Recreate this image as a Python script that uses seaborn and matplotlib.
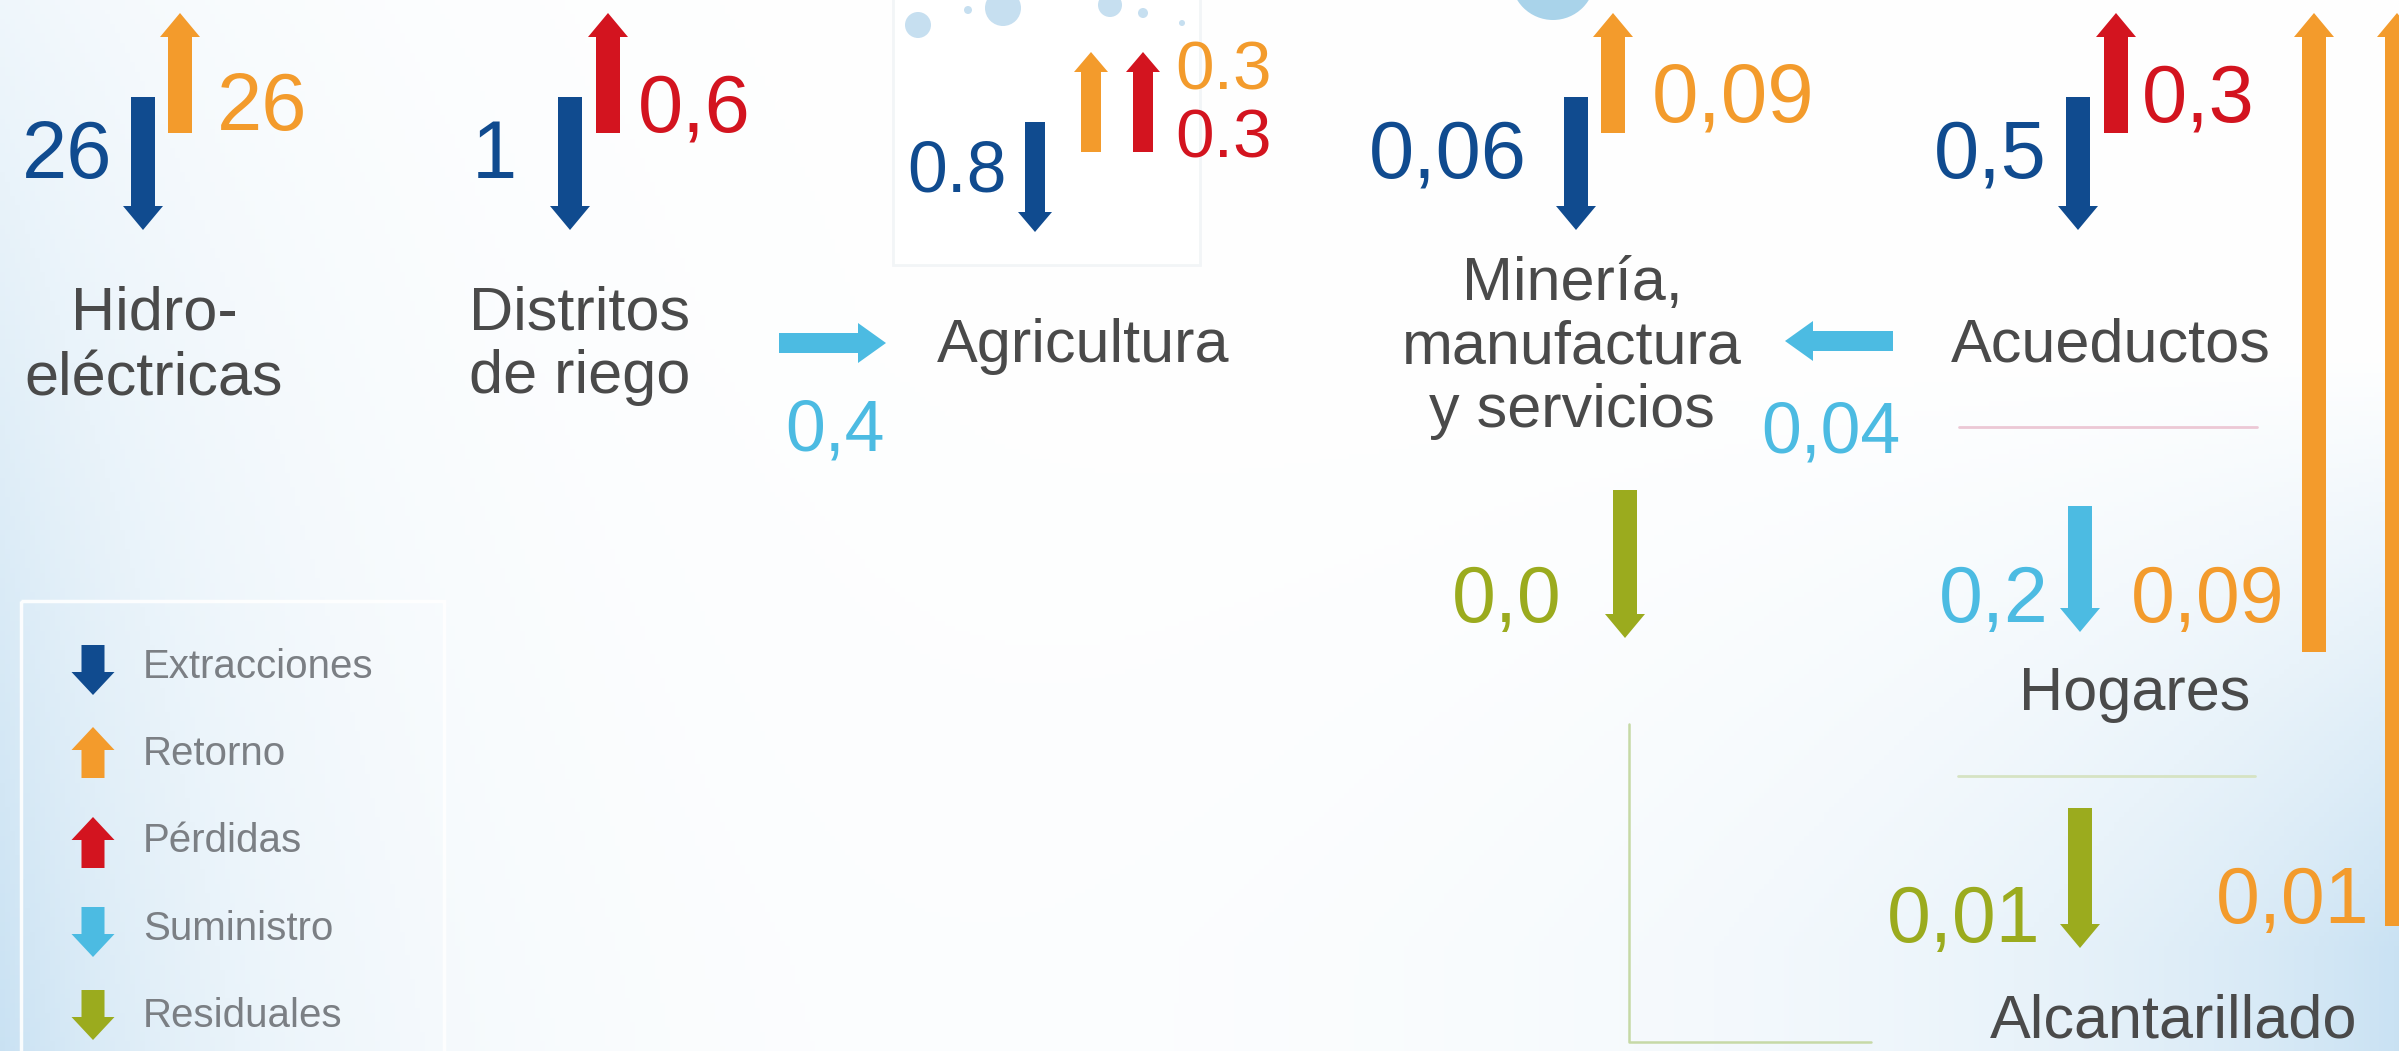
import numpy as np
import seaborn as sns
import matplotlib.pyplot as plt
from matplotlib import font_manager
from matplotlib.patches import FancyArrow, Rectangle, Circle

# --- datos (millones de m3, tal como aparecen en el esquema) ---
tipos_flujo = ["Extracciones", "Retorno", "Pérdidas", "Suministro", "Residuales"]
colores_flujo = ["#104b8f", "#f39b2c", "#d3141f", "#4cbbe2", "#9bab1e"]

sectores = ["Hidro-\neléctricas", "Distritos\nde riego", "Agricultura",
            "Minería,\nmanufactura\ny servicios", "Acueductos", "Hogares", "Alcantarillado"]

extracciones = ["26", "1", "0.8", "0,06", "0,5"]      # hidro, distritos, agricultura, minería, acueductos
retornos = ["26", "0.3", "0,09", "0,09", "0,01"]       # hidro, agricultura, minería, hogares, alcantarillado
perdidas = ["0,6", "0.3", "0,3"]                       # distritos, agricultura, acueductos
suministros = ["0,4", "0,04", "0,2"]                   # distritos->agri, acueductos->minería, acueductos->hogares
residuales = ["0,0", "0,01"]                           # minería, hogares->alcantarillado

# --- layout (pixeles) ---
W, H = 2399, 1051
# flechas: (x0, y0, x1, y1, tamaño)   texto: (x, y base, alineación, tamaño de letra)
ext_flechas = [(143, 97, 143, 230, "n"), (570, 97, 570, 230, "n"), (1035, 122, 1035, 232, "s"),
               (1576, 97, 1576, 230, "n"), (2078, 97, 2078, 230, "n")]
ext_textos = [(112, 178, "right", 68), (517, 178, "right", 68), (1007, 192, "right", 60),
              (1527, 178, "right", 68), (2047, 178, "right", 68)]
ret_flechas = [(180, 133, 180, 13, "n"), (1091, 152, 1091, 52, "s"), (1613, 133, 1613, 13, "n"),
               (2314, 652, 2314, 13, "n"), (2397, 926, 2397, 13, "n")]
ret_textos = [(217, 130, "left", 68), (1175, 90, "left", 58), (1652, 122, "left", 70),
              (2131, 622, "left", 66), (2216, 923, "left", 66)]
per_flechas = [(608, 133, 608, 13, "n"), (1143, 152, 1143, 52, "s"), (2116, 133, 2116, 13, "n")]
per_textos = [(638, 132, "left", 68), (1175, 157, "left", 58), (2142, 122, "left", 68)]
sum_flechas = [(779, 343, 886, 343, "h"), (1893, 341, 1785, 341, "h"), (2080, 506, 2080, 632, "n")]
sum_textos = [(835, 450, "center", 60), (1831, 452, "center", 60), (2049, 622, "right", 66)]
res_flechas = [(1625, 490, 1625, 638, "n"), (2080, 808, 2080, 948, "n")]
res_textos = [(1562, 622, "right", 66), (2040, 942, "right", 66)]

sector_pos = [(154, [330, 395]), (580, [330, 393]), (1083, [362]), (1572, [300, 363, 427]),
              (2111, [362]), (2135, [710]), (2174, [1038])]

dims = {"n": (24, 40, 24), "s": (20, 34, 20), "h": (20, 40, 28)}

sns.set_theme(style="white")
plt.rcParams['font.family'] = ['Liberation Sans', 'DejaVu Sans']
paleta = dict(zip(tipos_flujo, sns.color_palette(colores_flujo)))

nombres = {f.name for f in font_manager.fontManager.ttflist}
if "Liberation Sans Narrow" in nombres:
    fuente_num, esc = "Liberation Sans Narrow", 1.0
else:
    fuente_num, esc = "Liberation Sans", 0.86

fig = plt.figure(figsize=(W / 100, H / 100), dpi=100)
ax = fig.add_axes([0, 0, 1, 1])
ax.set_xlim(0, W)
ax.set_ylim(H, 0)
ax.axis("off")

# fondo degradado celeste
gx, gy = np.meshgrid(np.linspace(0, W, 480), np.linspace(0, H, 220))
izq = np.exp(-gx / 260) * np.clip(0.3 + 0.7 * gy / H, 0, 1)
der = np.exp(-(W - gx) / 430) * np.clip((gy - 350) / 600, 0, 1)
t = np.clip(0.95 * izq + 0.95 * der, 0, 1)[..., None]
tinte = np.array([0.78, 0.88, 0.95])
ax.imshow(1 - t * (1 - tinte), extent=[0, W, H, 0], aspect="auto", zorder=0)

# recuadro de agricultura con burbujas
ax.add_patch(Rectangle((893, -10), 307, 275, facecolor="white", edgecolor="#f2f5f7", lw=2, zorder=1))
for bx, by, br in [(918, 25, 13), (1003, 8, 18), (1110, 5, 12), (968, 10, 4), (1143, 13, 5), (1182, 23, 3)]:
    ax.add_patch(Circle((bx, by), br, facecolor="#c6dff0", edgecolor="none", zorder=1))
ax.add_patch(Circle((1553, -22), 42, facecolor="#a9d3ea", edgecolor="none", zorder=1))

# líneas separadoras
ax.plot([1959, 2257], [427, 427], color="#ecc8d5", lw=2, zorder=1)
ax.plot([1958, 2255], [776, 776], color="#d6e3c3", lw=2, zorder=1)
ax.plot([1629, 1629, 1871], [724, 1042, 1042], color="#c6d9a6", lw=1.8, zorder=1)


def flecha(x0, y0, x1, y1, tam, color):
    ancho, cabeza, largo = dims[tam]
    ax.add_patch(FancyArrow(x0, y0, x1 - x0, y1 - y0, width=ancho, head_width=cabeza,
                            head_length=largo, length_includes_head=True,
                            facecolor=color, edgecolor="none", zorder=3))


def numero(s, x, y, ha, size, color):
    ax.text(x, y, s, ha=ha, va="baseline", color=color, fontsize=size * esc,
            family=fuente_num, zorder=4)


grupos = [(extracciones, ext_flechas, ext_textos, "Extracciones"),
          (retornos, ret_flechas, ret_textos, "Retorno"),
          (perdidas, per_flechas, per_textos, "Pérdidas"),
          (suministros, sum_flechas, sum_textos, "Suministro"),
          (residuales, res_flechas, res_textos, "Residuales")]
for valores, flechas, textos, tipo in grupos:
    for v, (x0, y0, x1, y1, tam), (tx, ty, ha, fs) in zip(valores, flechas, textos):
        flecha(x0, y0, x1, y1, tam, paleta[tipo])
        numero(v, tx, ty, ha, fs, paleta[tipo])

# nombres de los sectores
for nombre, (cx, bases) in zip(sectores, sector_pos):
    for linea, yb in zip(nombre.split("\n"), bases):
        ax.text(cx, yb, linea, ha="center", va="baseline", color="#4a4a4a", fontsize=44, zorder=4)

# leyenda
ax.add_patch(Rectangle((21, 601), 423, 470, facecolor="none", edgecolor="white", lw=2.5, alpha=0.9, zorder=1))
ley_y = [(645, 695), (778, 727), (868, 817), (907, 957), (990, 1040)]
ley_base = [678, 765, 852, 940, 1027]
for tipo, (ya, yb), base in zip(tipos_flujo, ley_y, ley_base):
    ax.add_patch(FancyArrow(93, ya, 0, yb - ya, width=23, head_width=43, head_length=23,
                            length_includes_head=True, facecolor=paleta[tipo], edgecolor="none", zorder=3))
    ax.text(143, base, tipo, ha="left", va="baseline", color="#7b7f84", fontsize=29, zorder=4)

fig.savefig("out.png", dpi=100)
